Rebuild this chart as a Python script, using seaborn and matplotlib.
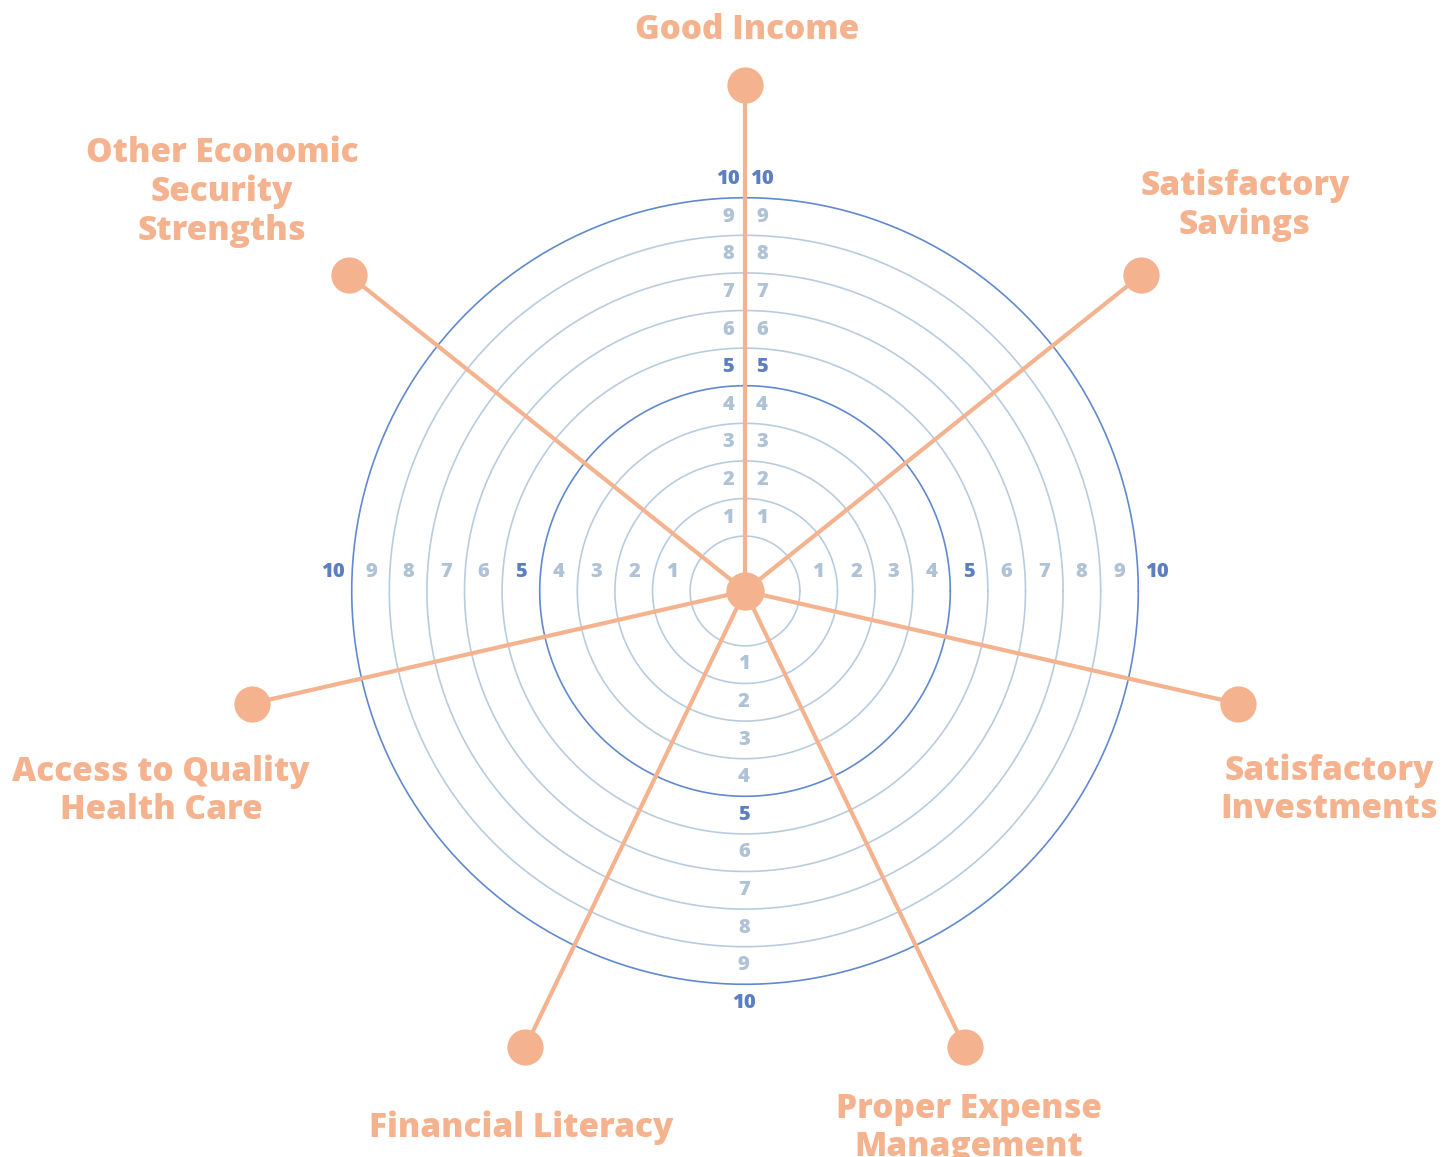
import numpy as np
import seaborn as sns
import matplotlib.pyplot as plt
import pandas as pd

sns.set_style('white')
plt.rcParams['font.family'] = ['Open Sans', 'DejaVu Sans']

categories = ['Good Income', 'Satisfactory\nSavings', 'Satisfactory\nInvestments',
              'Proper Expense\nManagement', 'Financial Literacy',
              'Access to Quality\nHealth Care', 'Other Economic\nSecurity\nStrengths']
ring_values = [1, 2, 3, 4, 5, 6, 7, 8, 9, 10]
major_rings = [5, 10]
dot_value = 13

# layout (one unit = one ring step)
px = 37.6
r0 = 0.46          # radius of ring 0 (hub offset)
label_xy = [(747, 30), (1245, 205), (1329, 790), (969, 1128), (521, 1128),
            (161, 791), (222, 192)]

orange = '#F4B38E'
light_ring = '#B9CCDF'
dark_ring = '#6089CF'
light_txt = '#AFC2D6'
dark_txt = '#5B7FC2'

fig = plt.figure(figsize=(14.46, 11.57), dpi=100)
ax = fig.add_axes([0, 0, 1, 1])
ax.set_xlim(-745 / px, (1446 - 745) / px)
ax.set_ylim(-(1157 - 591) / px, 591 / px)
ax.axis('off')

# rings
t = np.linspace(0, 2 * np.pi, 400)
for v in ring_values:
    r = v + r0
    major = v in major_rings
    ax.plot(r * np.cos(t), r * np.sin(t), color=dark_ring if major else light_ring,
            lw=1.2, zorder=1)

# spokes + end dots
angles = np.deg2rad(90 - np.arange(len(categories)) * 360 / len(categories))
R = dot_value + r0
ends = pd.DataFrame({'x': R * np.cos(angles), 'y': R * np.sin(angles),
                     'cat': categories})
for _, row in ends.iterrows():
    ax.plot([0, row.x], [0, row.y], color=orange, lw=3.0, solid_capstyle='butt', zorder=2)
sns.scatterplot(data=ends, x='x', y='y', color=orange, s=680, linewidth=0,
                ax=ax, zorder=3, legend=False)
sns.scatterplot(x=[0], y=[0], color=orange, s=760, linewidth=0, ax=ax, zorder=3)

# ring value labels
for v in ring_values:
    rl = v + r0 + 0.49
    major = v in major_rings
    c = dark_txt if major else light_txt
    kw = dict(color=c, fontsize=14.5, fontweight='heavy', ha='center', va='center', zorder=4)
    ax.text(-0.45, rl, str(v), **kw)
    ax.text(0.45, rl, str(v), **kw)
    ax.text(-rl, 0.5, str(v), **kw)
    ax.text(rl, 0.5, str(v), **kw)
    ax.text(-0.03, -rl, str(v), **kw)

# category labels
for cat, (lx, ly) in zip(categories, label_xy):
    ax.text((lx - 745) / px, (591 - ly) / px, cat, color=orange, fontsize=24,
            fontweight='heavy', ha='center', va='center', linespacing=1.17)

fig.savefig('out.png', dpi=100, facecolor='white')
